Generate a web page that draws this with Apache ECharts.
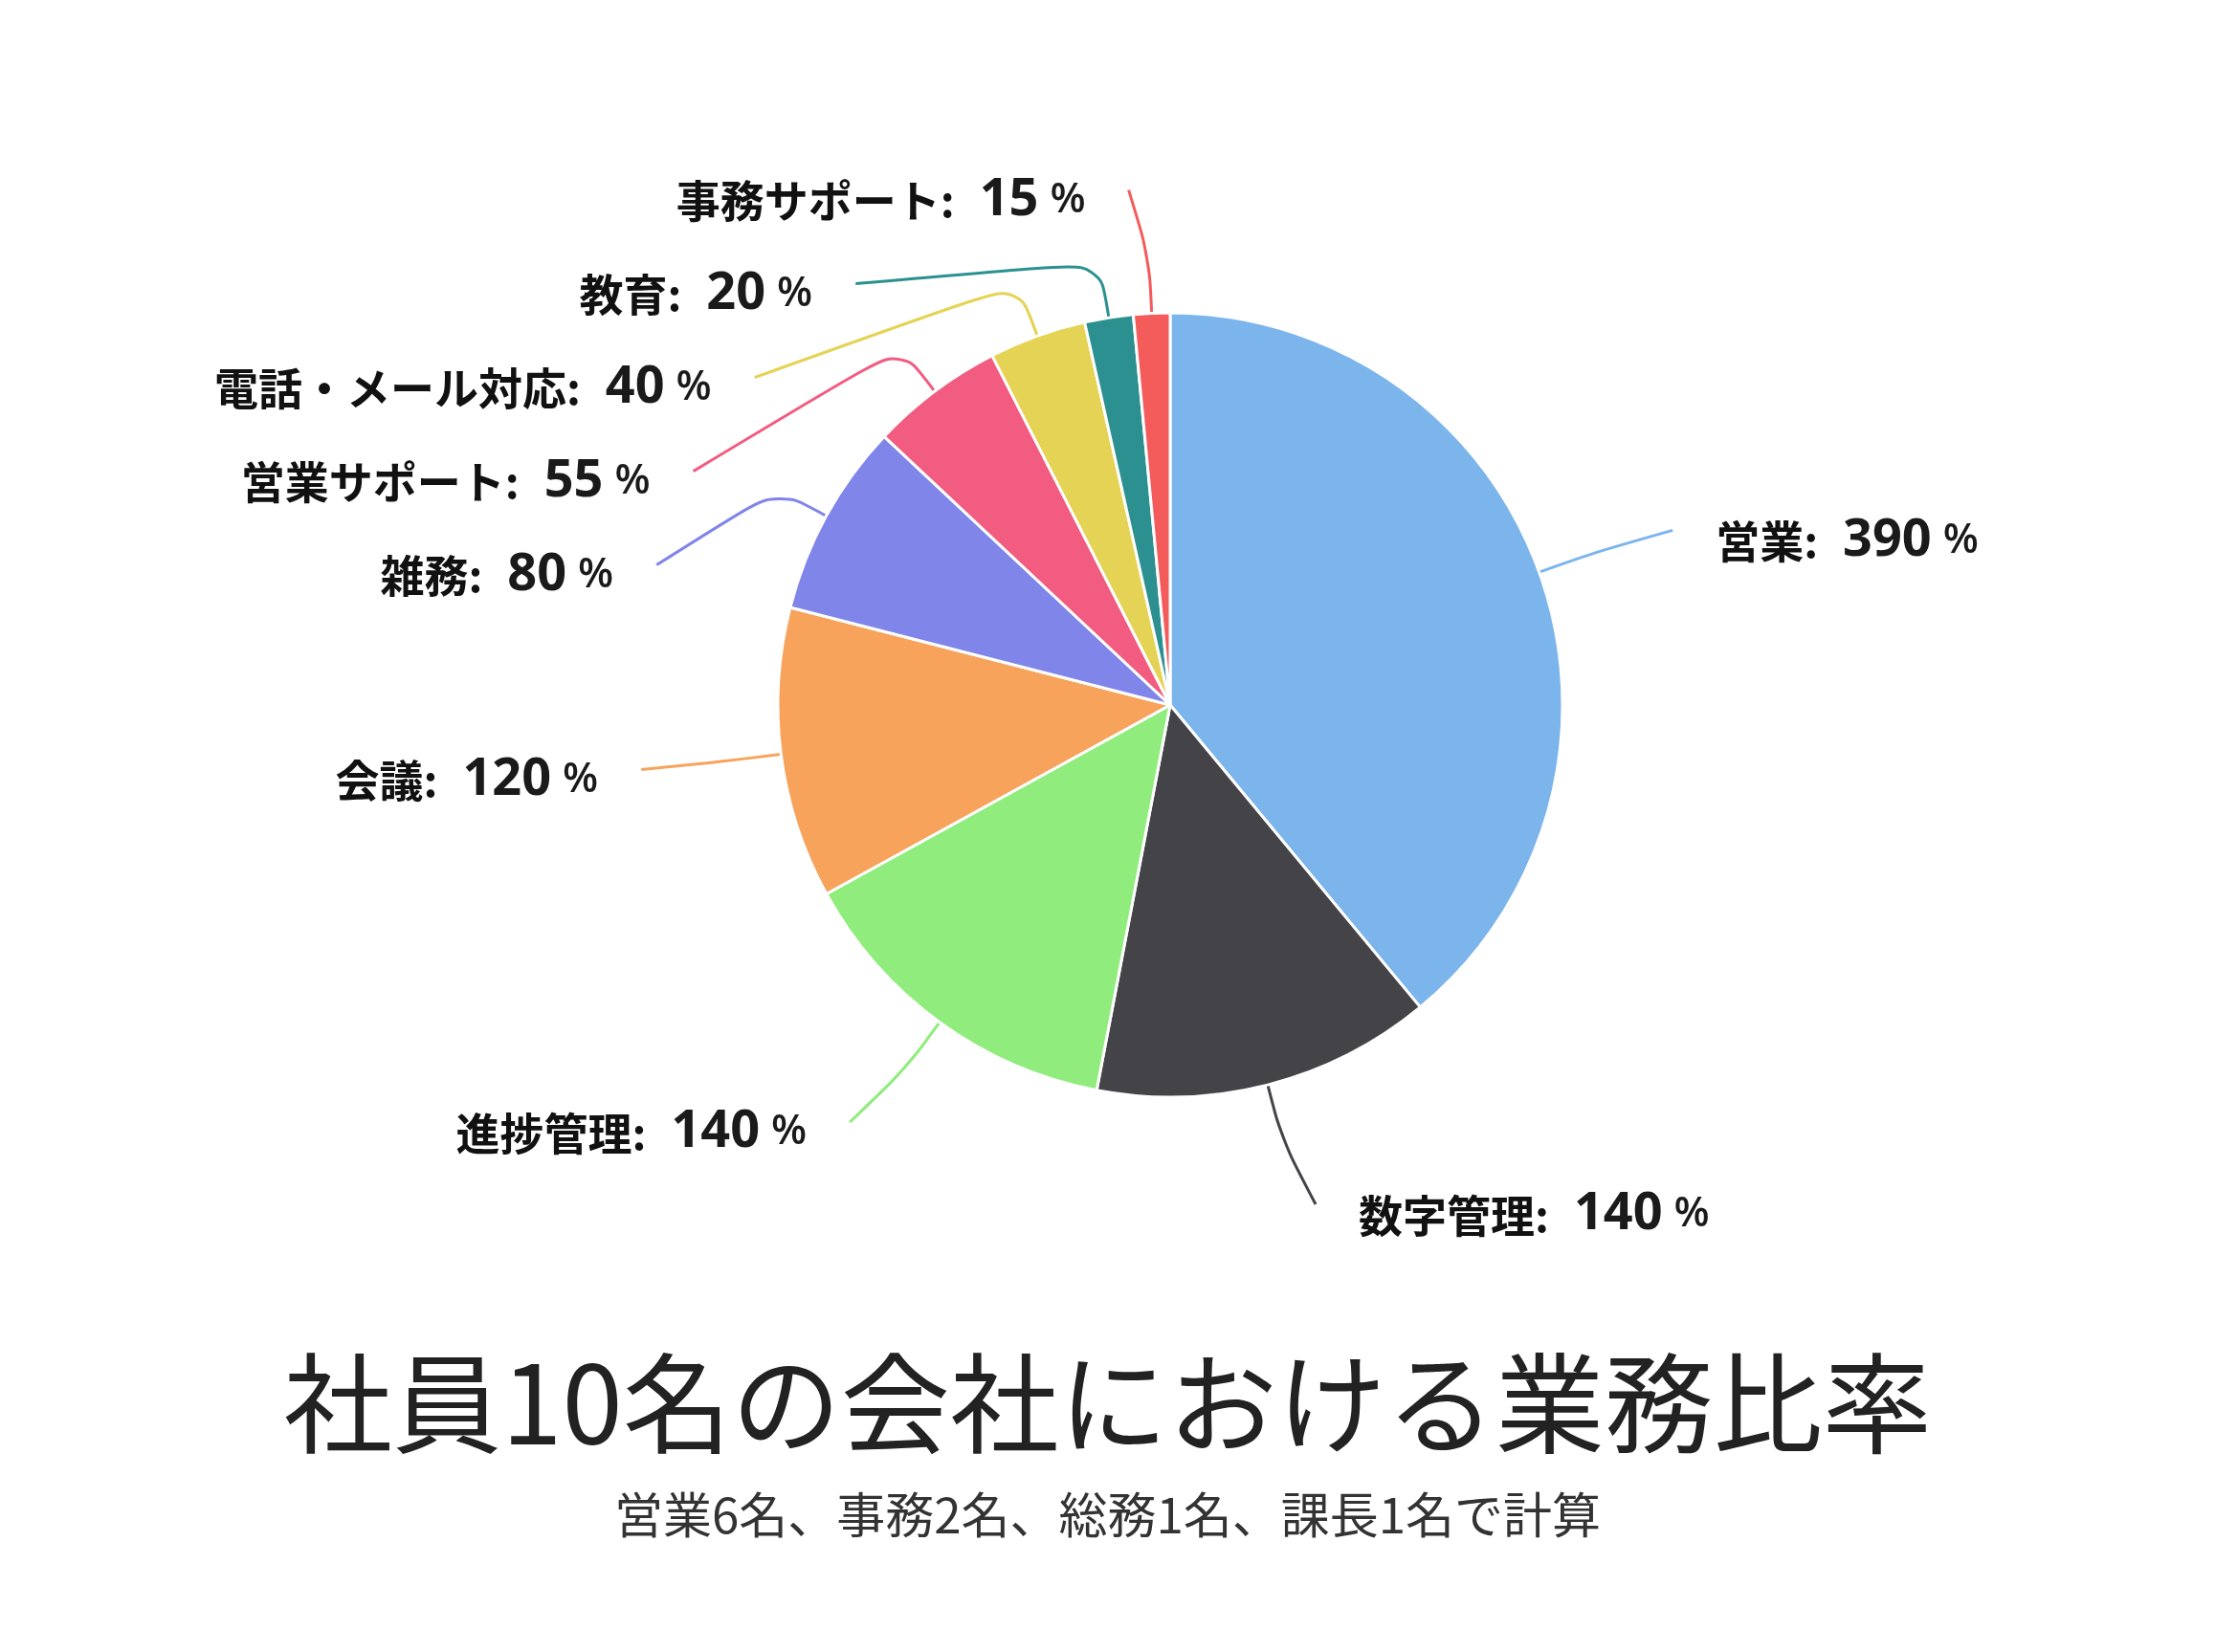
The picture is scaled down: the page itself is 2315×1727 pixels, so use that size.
<!DOCTYPE html>
<html>
<head>
<meta charset="utf-8">
<title>社員10名の会社における業務比率</title>
<script src="https://cdn.jsdelivr.net/npm/echarts@6/dist/echarts.min.js"></script>
<style>
  html, body { margin: 0; padding: 0; background: #fff; }
  #chart { width: 2315px; height: 1727px; }
</style>
</head>
<body>
<div id="chart"></div>
<script>
// data
var categories = ['営業', '数字管理', '進捗管理', '会議', '雑務', '営業サポート', '電話・メール対応', '教育', '事務サポート'];
var values = [390, 140, 140, 120, 80, 55, 40, 20, 15];
var colors = ['#7cb5ec', '#434348', '#90ed7d', '#f7a35c', '#8085e9', '#f15c80', '#e4d354', '#2b908f', '#f45b5b'];
var titleText = '社員10名の会社における業務比率';
var subText = '営業6名、事務2名、総務1名、課長1名で計算';

var CX = 1223, CY = 737;   // pie centre (px)
var BEND = 59;             // radial part of the connector
var GAP = 45;              // space between connector end and text

var chart = echarts.init(document.getElementById('chart'));

var pieData = categories.map(function (name, i) {
    return { name: name, value: values[i], itemStyle: { color: colors[i] } };
});

// connector: edge -> short radial step -> label side
function connector(params) {
    var pts = params.labelLinePoints;
    if (!pts) return {};
    var r = params.labelRect;
    var p0 = pts[0];
    var dx = p0[0] - CX, dy = p0[1] - CY;
    var d = Math.sqrt(dx * dx + dy * dy) || 1;
    var bend = [p0[0] + dx / d * BEND, p0[1] + dy / d * BEND];
    var left = r.x + r.width / 2 < CX;
    var end = [left ? r.x + r.width + GAP : r.x - GAP, r.y + r.height / 2];
    return { labelLinePoints: [p0, bend, end] };
}

var option = {
    backgroundColor: '#ffffff',
    animation: false,
    title: [{
        text: titleText,
        left: 'center',
        top: 1405,
        textStyle: {
            fontFamily: 'Noto Sans CJK JP',
            fontWeight: 'normal',
            fontSize: 114,
            lineHeight: 114,
            color: '#222222'
        }
    }, {
        text: subText,
        left: 'center',
        top: 1553,
        textStyle: {
            fontFamily: 'Noto Sans CJK JP',
            fontWeight: 'normal',
            fontSize: 51,
            lineHeight: 51,
            color: '#333333'
        }
    }],
    series: [{
        type: 'pie',
        center: [CX, CY],
        radius: 410,
        startAngle: 90,
        clockwise: true,
        avoidLabelOverlap: true,
        data: pieData,
        itemStyle: {
            borderColor: '#ffffff',
            borderWidth: 3
        },
        label: {
            show: true,
            position: 'outer',
            alignTo: 'none',
            formatter: function (p) {
                return '{n|' + p.name + ':}{v|' + p.value + '}{p|%}';
            },
            // invisible box so the stacking uses the full line height
            backgroundColor: 'transparent',
            padding: [22, 0, 0, 0],
            lineHeight: 74,
            distanceToLabelLine: 0,
            color: '#111111',
            rich: {
                n: {
                    fontFamily: 'Noto Sans CJK JP',
                    fontWeight: 'bold',
                    fontSize: 46,
                    lineHeight: 74,
                    color: '#111111'
                },
                v: {
                    fontFamily: "'Open Sans', 'Noto Sans CJK JP'",
                    fontWeight: 'bold',
                    fontSize: 54,
                    lineHeight: 74,
                    padding: [0, 0, 0, 26],
                    color: '#1a1a1a'
                },
                p: {
                    fontFamily: "'Open Sans', 'Noto Sans CJK JP'",
                    fontWeight: 600,
                    fontSize: 43,
                    lineHeight: 74,
                    padding: [0, 0, 0, 12],
                    color: '#1a1a1a'
                }
            }
        },
        labelLine: {
            show: true,
            length: 129,
            length2: 63,
            smooth: 0.35,
            lineStyle: { width: 3 }
        },
        labelLayout: connector,
        emphasis: { disabled: true }
    }]
};

chart.setOption(option);
</script>
</body>
</html>
